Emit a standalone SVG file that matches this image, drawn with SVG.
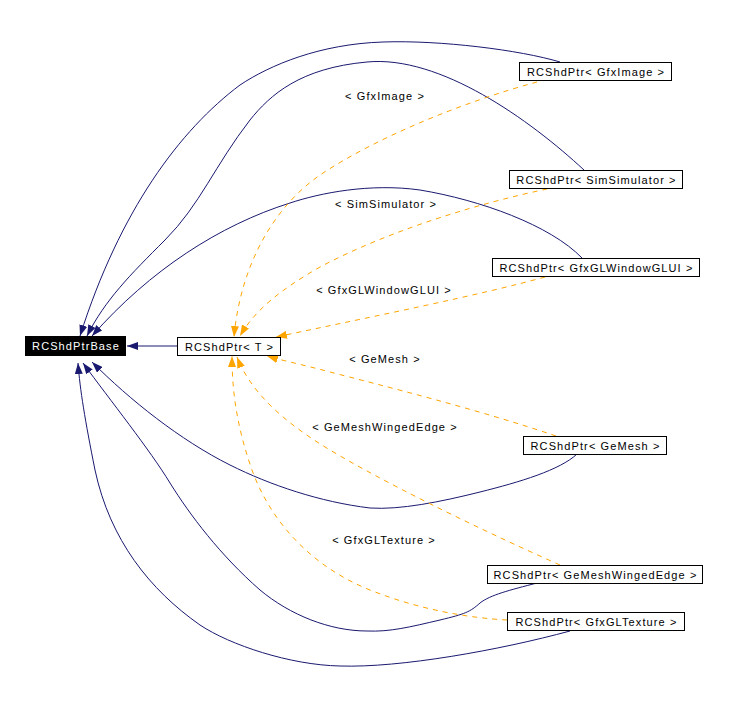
<svg xmlns="http://www.w3.org/2000/svg" width="729" height="710" viewBox="0 0 729 710">
<style>
text{font-family:"Liberation Sans",Arial,sans-serif;font-size:11px;letter-spacing:1.1px;text-anchor:middle;fill:#000}
.box{fill:#fff;stroke:#000;stroke-width:1}
.inh{fill:none;stroke:#191970;stroke-width:1;marker-end:url(#an)}
.tpl{fill:none;stroke:#ffa500;stroke-width:1;stroke-dasharray:5,5;marker-end:url(#ao)}
</style>
<defs>
<marker id="an" markerUnits="userSpaceOnUse" markerWidth="11" markerHeight="8" viewBox="0 0 11 8" refX="11" refY="4" orient="auto"><path d="M0,0 L11,4 L0,8 z" fill="#191970"/></marker>
<marker id="ao" markerUnits="userSpaceOnUse" markerWidth="11" markerHeight="8" viewBox="0 0 11 8" refX="11" refY="4" orient="auto"><path d="M0,0 L11,4 L0,8 z" fill="#ffa500"/></marker>
</defs>
<rect width="729" height="710" fill="#fff"/>
<g id="connectors">
<path class="inh" d="M177,346 L127,346"/>
<path class="inh" d="M560,62 C520,50 440,40 383,42 C320,44 270,65 240,85 C180,130 120,210 80,336"/>
<path class="inh" d="M584,170 C530,120 440,55 367,62 C300,68 270,95 250,120 C215,165 200,205 165,240 C130,275 105,300 87,336"/>
<path class="inh" d="M582,258 C550,225 480,200 420,190 C370,183 320,193 290,203 C220,225 150,270 92,336"/>
<path class="inh" d="M577,454 C560,470 520,482 480,492 C440,502 400,510 370,508 C320,502 270,485 230,465 C180,440 130,400 92,362"/>
<path class="inh" d="M537,583 C510,590 490,595 480,603 C470,612 465,614 440,620 C410,627 390,632 367,631 C330,631 290,615 260,590 C220,555 190,515 170,483 C150,450 110,400 83,363"/>
<path class="inh" d="M570,631 C500,650 400,668 340,666 C290,665 230,645 200,625 C150,590 110,540 95,470 C85,420 80,390 78,363"/>
<path class="tpl" d="M537,82 C470,100 380,135 320,175 C270,210 240,270 234,337"/>
<path class="tpl" d="M547,189 C480,203 390,230 320,267 C280,290 255,310 240,336"/>
<path class="tpl" d="M545,277 C480,295 380,315 276,337"/>
<path class="tpl" d="M556,436 C480,410 380,385 330,372 C300,364 280,360 267,356"/>
<path class="tpl" d="M560,565 C470,525 380,480 330,450 C280,420 250,390 237,357"/>
<path class="tpl" d="M507,620 C470,618 420,610 370,590 C310,566 270,520 252,470 C238,430 232,395 232,356"/>
<text x="385" y="100">&lt; GfxImage &gt;</text>
<text x="386" y="208">&lt; SimSimulator &gt;</text>
<text x="384" y="294">&lt; GfxGLWindowGLUI &gt;</text>
<text x="385" y="363">&lt; GeMesh &gt;</text>
<text x="385" y="431">&lt; GeMeshWingedEdge &gt;</text>
<text x="384" y="544">&lt; GfxGLTexture &gt;</text>
</g>
<g id="RCShdPtrBase"><rect x="25" y="336" width="101" height="20" fill="#000"/><text x="76" y="350" style="fill:#fff">RCShdPtrBase</text></g>
<g id="RCShdPtrT"><rect class="box" x="177.5" y="337.5" width="103" height="18"/><text x="229.5" y="351">RCShdPtr&lt; T &gt;</text></g>
<g id="GfxImage"><rect class="box" x="519.5" y="62.5" width="152" height="18"/><text x="596" y="76">RCShdPtr&lt; GfxImage &gt;</text></g>
<g id="SimSimulator"><rect class="box" x="509.5" y="170.5" width="173" height="18"/><text x="596.5" y="184">RCShdPtr&lt; SimSimulator &gt;</text></g>
<g id="GfxGLWindowGLUI"><rect class="box" x="492.5" y="258.5" width="207" height="18"/><text x="596.5" y="272">RCShdPtr&lt; GfxGLWindowGLUI &gt;</text></g>
<g id="GeMesh"><rect class="box" x="523.5" y="436.5" width="143" height="18"/><text x="595.5" y="450">RCShdPtr&lt; GeMesh &gt;</text></g>
<g id="GeMeshWingedEdge"><rect class="box" x="487.5" y="565.5" width="215" height="18"/><text x="595.5" y="579">RCShdPtr&lt; GeMeshWingedEdge &gt;</text></g>
<g id="GfxGLTexture"><rect class="box" x="507.5" y="612.5" width="177" height="18"/><text x="596.5" y="626">RCShdPtr&lt; GfxGLTexture &gt;</text></g>
</svg>
